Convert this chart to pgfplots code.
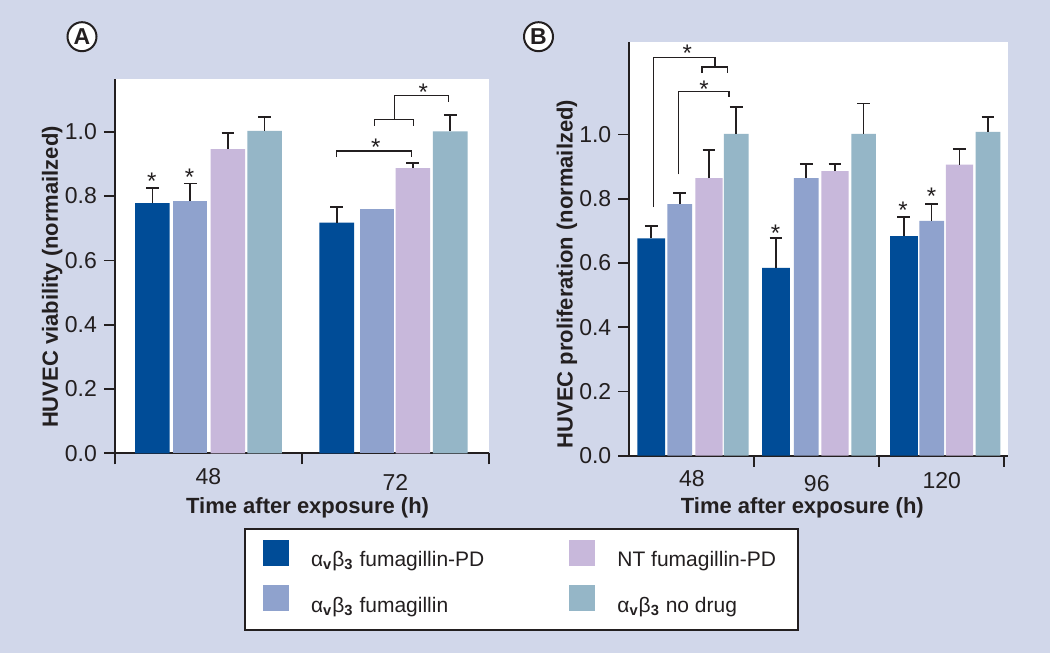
\documentclass[border=0pt]{standalone}
\usepackage{fontspec}
\setmainfont{Liberation Sans}
\usepackage{pgfplots}
\pgfplotsset{compat=1.18}

\definecolor{bgc}{RGB}{209,215,234}
\definecolor{cA}{RGB}{0,76,151}
\definecolor{cB}{RGB}{143,162,205}
\definecolor{cC}{RGB}{200,184,219}
\definecolor{cD}{RGB}{149,182,199}
\definecolor{ink}{RGB}{35,31,32}

\newcommand{\ab}{α\textsubscript{\bfseries v}β\textsubscript{\bfseries 3}}

\pgfplotsset{
  panel/.style={
    scale only axis, clip=false,
    axis lines=left,
    axis line style={-, line width=0.85pt, draw=ink},
    axis background/.style={fill=white},
    ymin=0,
    ytick={0,0.2,0.4,0.6,0.8,1.0},
    /pgf/number format/assume math mode=true,
    yticklabel style={/pgf/number format/.cd, fixed, fixed zerofill, precision=1},
    tick align=outside,
    major tick length=5.5pt,
    tick style={line width=0.85pt, draw=ink},
    ticklabel style={font=\fontsize{11.5}{13}\selectfont, text=ink},
    extra x tick style={major tick length=0pt, xticklabel style={anchor=base, yshift=-15.4pt}},
    label style={font=\bfseries\fontsize{11}{13}\selectfont, text=ink},
  },
  err/.style={error bars/.cd, y dir=plus, y explicit,
    error bar style={line width=0.85pt, draw=ink},
    error mark=-,
    error mark options={rotate=90, mark size=3.2pt, line width=0.85pt, draw=ink}},
}
\tikzset{star/.style={inner sep=0pt, anchor=base, yshift=-6.8pt, font=\fontsize{12}{12}\selectfont, text=ink},
  bk/.style={draw=ink, line width=0.65pt},
  plabel/.style={circle, draw=ink, fill=white, line width=1pt, minimum size=14.5pt, inner sep=0pt, font=\bfseries\fontsize{11.5}{11.5}\selectfont, text=ink}}

\begin{document}
\begin{tikzpicture}
\fill[bgc] (0,0) rectangle (525pt,326.5pt);
\path[use as bounding box] (0,0) rectangle (525pt,326.5pt);

\node[plabel] at (41pt,308.15pt) {A};
\node[plabel] at (269.25pt,308.15pt) {B};

% ---------------- Panel A ----------------
\begin{axis}[panel, at={(57.5pt,99.85pt)}, anchor=south west,
  width=187pt, height=187.15pt, ymax=1.164,
  xmin=-0.5, xmax=1.5, xtick={-0.5,0.5,1.5}, xticklabels={,,},
  extra x ticks={0,1}, extra x tick labels={48,{\raisebox{-3pt}{72}}},
  xlabel={Time after exposure (h)}, ylabel={HUVEC viability (normailzed)},
  xlabel style={at={(axis description cs:0.515,-0.146)}, anchor=center},
  ylabel style={at={(axis description cs:-0.168,0.471)}, anchor=center},
  legend columns=2, transpose legend, legend cell align=left,
  legend image code/.code={\fill[#1,/tikz/.cd,bar width=13pt,bar shift=0pt,yshift=-2.6pt] plot coordinates {(6.5pt,13pt)};},
  legend style={at={(axis description cs:0.3457,-0.2004)}, anchor=north west,
    draw=ink, line width=0.8pt, fill=white, font=\fontsize{10.5}{13}\selectfont, text=ink,
    inner xsep=9pt, inner ysep=5.2pt, row sep=6pt,
    /tikz/every odd column/.append style={column sep=9pt},
    /tikz/every even column/.append style={column sep=40.5pt}},
]
\addplot[ybar, bar width=0.185, bar shift=0pt, fill=cA, draw=none, err]
  coordinates {(-0.300,0.778) +- (0,0.047) (0.686,0.717) +- (0,0.049)};
\addlegendentry{\ab{} fumagillin-PD}
\addplot[ybar, bar width=0.185, bar shift=0pt, fill=cB, draw=none, err]
  coordinates {(-0.098,0.784) +- (0,0.055)};
\addlegendentry{\ab{} fumagillin}
\addplot[ybar, bar width=0.185, bar shift=0pt, fill=cB, draw=none, forget plot]
  coordinates {(0.902,0.759)};
\addplot[ybar, bar width=0.185, bar shift=0pt, fill=cC, draw=none, err]
  coordinates {(0.104,0.946) +- (0,0.049) (1.093,0.887) +- (0,0.015)};
\addlegendentry{NT fumagillin-PD}
\addplot[ybar, bar width=0.185, bar shift=0pt, fill=cD, draw=none, err]
  coordinates {(0.300,1.003) +- (0,0.042) (1.293,1.001) +- (0,0.050)};
\addlegendentry{\ab{} no drug}

\draw[bk] (axis cs:0.686,0.921) |- (axis cs:1.085,0.940) -- (axis cs:1.085,0.921);
\draw[bk] (axis cs:0.888,1.019) |- (axis cs:1.096,1.039) -- (axis cs:1.096,1.019);
\draw[bk] (axis cs:0.995,1.039) |- (axis cs:1.282,1.113) -- (axis cs:1.282,1.092);
\node[star] at (axis cs:0.894,0.968) {*};
\node[star] at (axis cs:1.149,1.140) {*};
\node[star] at (axis cs:-0.303,0.862) {*};
\node[star] at (axis cs:-0.101,0.876) {*};
\end{axis}

% ---------------- Panel B ----------------
\begin{axis}[panel, at={(314.65pt,98.65pt)}, anchor=south west,
  width=189.35pt, height=207pt, ymax=1.289,
  xmin=-0.5, xmax=2.53, xtick={0.5,1.5,2.5}, xticklabels={,,},
  extra x ticks={0,1,2}, extra x tick labels={48,{\raisebox{-2.5pt}{96}},{\raisebox{-1.15pt}{120}}},
  xlabel={Time after exposure (h)}, ylabel={HUVEC proliferation (normailzed)},
  xlabel style={at={(axis description cs:0.457,-0.126)}, anchor=center},
  ylabel style={at={(axis description cs:-0.1645,0.439)}, anchor=center},
]
\addplot[ybar, bar width=0.222, bar shift=0pt, fill=cA, draw=none, err]
  coordinates {(-0.325,0.677) +- (0,0.039) (0.673,0.585) +- (0,0.093) (1.697,0.684) +- (0,0.060)};
\addplot[ybar, bar width=0.198, bar shift=0pt, fill=cB, draw=none, err]
  coordinates {(-0.097,0.783) +- (0,0.036) (0.915,0.864) +- (0,0.044) (1.919,0.731) +- (0,0.052)};
\addplot[ybar, bar width=0.218, bar shift=0pt, fill=cC, draw=none, err]
  coordinates {(0.138,0.864) +- (0,0.088) (1.146,0.886) +- (0,0.022) (2.141,0.906) +- (0,0.049)};
\addplot[ybar, bar width=0.197, bar shift=0pt, fill=cD, draw=none, err]
  coordinates {(0.356,1.002) +- (0,0.083) (1.375,1.002) +- (0,0.095) (2.370,1.008) +- (0,0.046)};

\draw[bk] (axis cs:-0.305,0.774) |- (axis cs:0.186,1.239) -- (axis cs:0.186,1.210);
\draw[bk] (axis cs:0.082,1.191) |- (axis cs:0.284,1.210) -- (axis cs:0.284,1.191);
\draw[bk] (axis cs:-0.105,0.876) |- (axis cs:0.298,1.133) -- (axis cs:0.298,1.116);
\node[star] at (axis cs:-0.036,1.270) {*};
\node[star] at (axis cs:0.098,1.157) {*};
\node[star] at (axis cs:0.671,0.709) {*};
\node[star] at (axis cs:1.690,0.782) {*};
\node[star] at (axis cs:1.919,0.825) {*};
\end{axis}
\end{tikzpicture}
\end{document}
